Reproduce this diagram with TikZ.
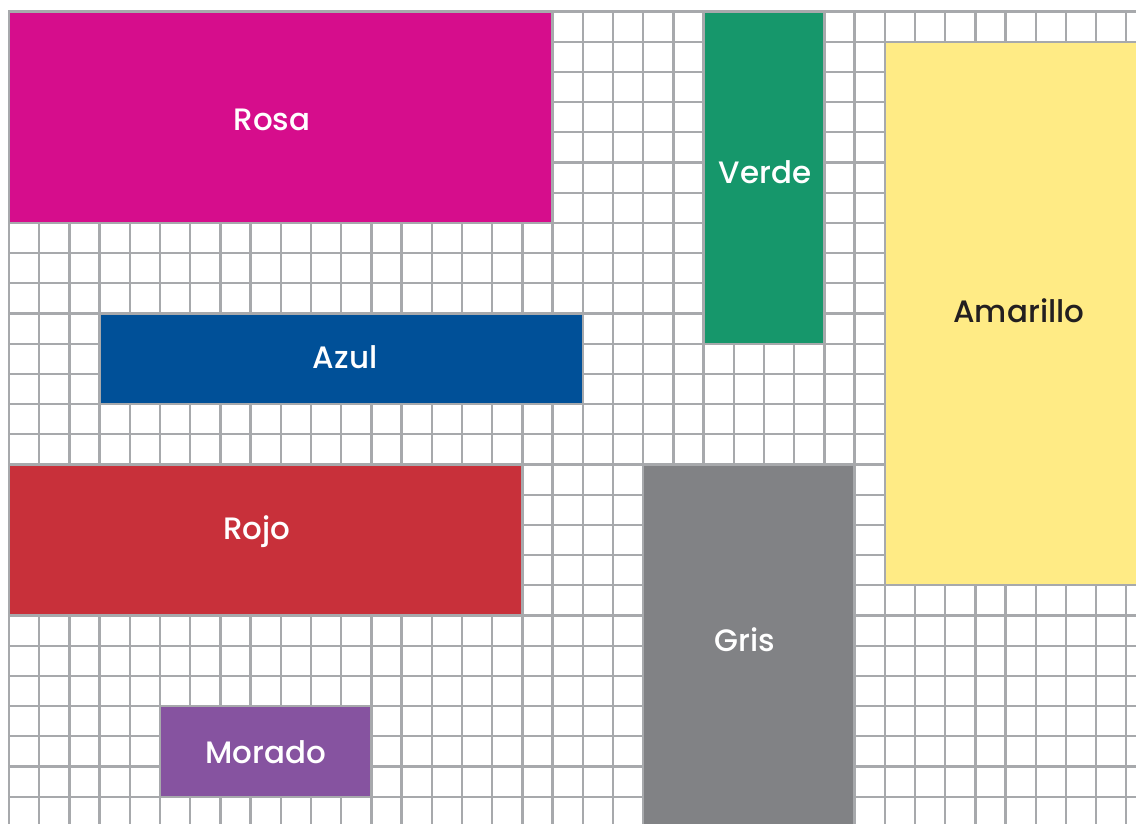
\documentclass[tikz,border=0pt]{standalone}
\usepackage{fontspec}
\setmainfont{Poppins}[UprightFont={* Medium}]
\usepackage{tikz}
\usetikzlibrary{positioning}
\definecolor{rejilla}{HTML}{A7A9AC}
\definecolor{rosa}{HTML}{D60D8C}
\definecolor{verde}{HTML}{16976B}
\definecolor{amarillo}{HTML}{FFEB85}
\definecolor{azul}{HTML}{005098}
\definecolor{rojo}{HTML}{C8303A}
\definecolor{gris}{HTML}{818285}
\definecolor{morado}{HTML}{8653A0}
\definecolor{tinta}{HTML}{231F20}
\tikzset{
  bloque/.style={draw=rejilla, line width=1.3pt},
  etiqueta/.style={font=\fontsize{17.5}{20}\selectfont, text=white}
}

\begin{document}
\begin{tikzpicture}[x=0.6cm,y=-0.6cm]
		\useasboundingbox (-0.298,-0.381) rectangle (37.32,26.90);
		\clip (-0.298,-0.381) rectangle (37.32,26.90);
		%Grid of squares
		\foreach \x in {0,...,38}
		\draw[rejilla, line width=1.3pt] (\x,0)--(\x,28);
		\foreach \y in {0,...,28}
		\draw[rejilla, line width=1.3pt] (0,\y)--(38,\y);
		%Coloured blocks
		\filldraw[bloque, fill=rosa] (0,0) rectangle (18,7);
		\filldraw[bloque, fill=verde] (23,0) rectangle (27,11);
		\filldraw[bloque, fill=amarillo] (29,1) rectangle (38,19);
		\filldraw[bloque, fill=azul] (3,10) rectangle (19,13);
		\filldraw[bloque, fill=rojo] (0,15) rectangle (17,20);
		\filldraw[bloque, fill=gris] (21,15) rectangle (28,28);
		\filldraw[bloque, fill=morado] (5,23) rectangle (12,26);
		%Names
		\node[etiqueta] (rosa) at (8.71,3.59) {Rosa};
		\node[etiqueta] (verde) at (25.03,5.31) {Verde};
		\node[etiqueta, text=tinta] (amarillo) at (33.44,9.92) {Amarillo};
		\node[etiqueta] (azul) at (11.13,11.44) {Azul};
		\node[etiqueta] (rojo) at (8.21,17.23) {Rojo};
		\node[etiqueta] (gris) at (24.37,20.81) {Gris};
		\node[etiqueta] (morado) at (8.51,24.52) {Morado};
\end{tikzpicture}
\end{document}
